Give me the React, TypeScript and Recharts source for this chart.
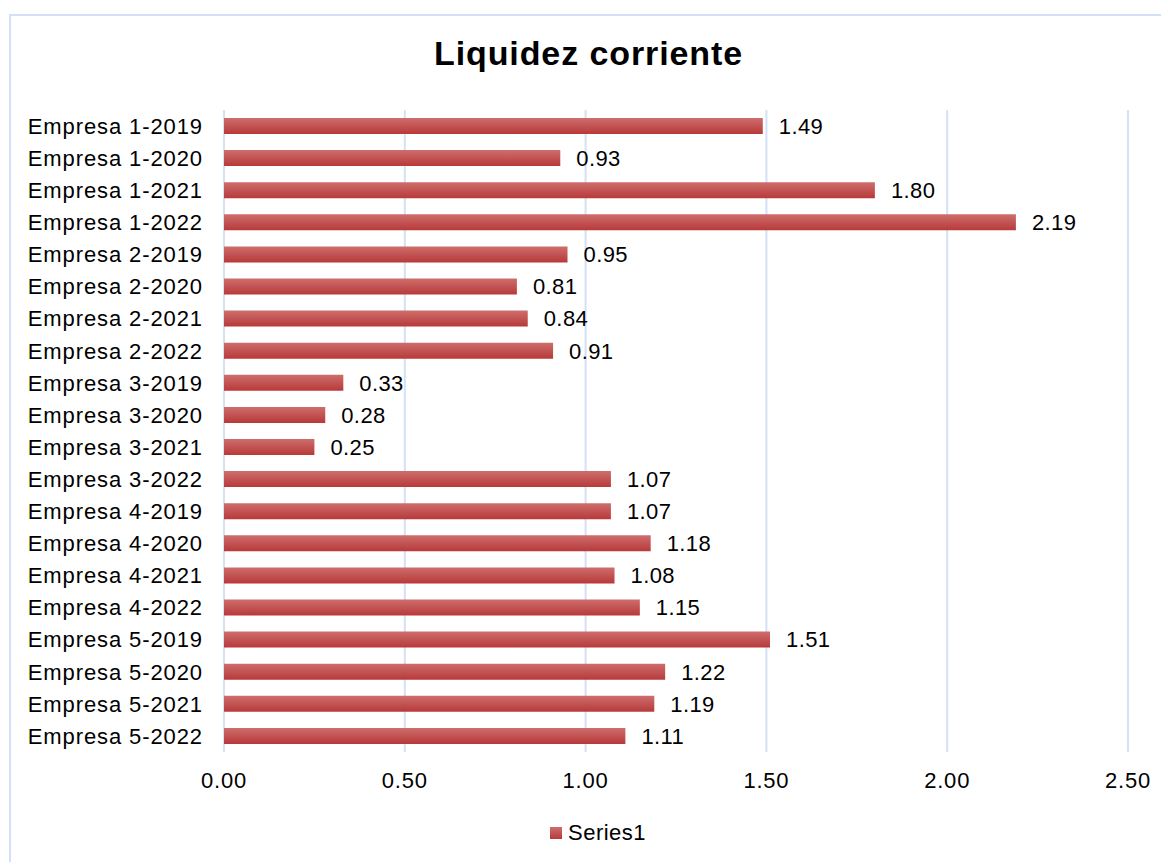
import React from "react";
import {
  Bar,
  BarChart,
  CartesianGrid,
  LabelList,
  XAxis,
  YAxis,
} from "recharts";

const categories = [
  "Empresa 1-2019",
  "Empresa 1-2020",
  "Empresa 1-2021",
  "Empresa 1-2022",
  "Empresa 2-2019",
  "Empresa 2-2020",
  "Empresa 2-2021",
  "Empresa 2-2022",
  "Empresa 3-2019",
  "Empresa 3-2020",
  "Empresa 3-2021",
  "Empresa 3-2022",
  "Empresa 4-2019",
  "Empresa 4-2020",
  "Empresa 4-2021",
  "Empresa 4-2022",
  "Empresa 5-2019",
  "Empresa 5-2020",
  "Empresa 5-2021",
  "Empresa 5-2022",
];

const series1 = [
  1.49, 0.93, 1.8, 2.19, 0.95, 0.81, 0.84, 0.91, 0.33, 0.28, 0.25, 1.07, 1.07,
  1.18, 1.08, 1.15, 1.51, 1.22, 1.19, 1.11,
];

const xTicks = [0, 0.5, 1, 1.5, 2, 2.5];

const data = categories.map((name, i) => ({ name, value: series1[i] }));

const FONT = "'Liberation Sans', Arial, sans-serif";
const GRID = "#d4e1f4";

export default function App() {
  return (
    <div style={{ position: "relative", width: 1161, height: 854, fontFamily: FONT }}>
      {/* chart frame, only top/left edges are visible in the crop */}
      <div
        style={{
          position: "absolute",
          left: 1,
          top: 6,
          width: 1170,
          height: 860,
          borderTop: `2px solid ${GRID}`,
          borderLeft: `2px solid ${GRID}`,
        }}
      />
      <div
        style={{
          position: "absolute",
          left: 0,
          width: 1161,
          top: 25,
          textAlign: "center",
          fontSize: 34,
          fontWeight: 700,
          letterSpacing: 0.9,
          color: "#000",
          lineHeight: "40px",
        }}
      >
        Liquidez corriente
      </div>
      <BarChart
        width={1161}
        height={854}
        layout="vertical"
        data={data}
        margin={{ top: 102, right: 41, left: 0, bottom: 70 }}
        style={{ position: "absolute", left: 0, top: 0 }}
      >
        <defs>
          <linearGradient id="barGrad" x1="0" y1="0" x2="0" y2="1">
            <stop offset="0%" stopColor="#cd6e6c" />
            <stop offset="100%" stopColor="#b8393a" />
          </linearGradient>
        </defs>
        <CartesianGrid horizontal={false} stroke={GRID} strokeWidth={2} />
        <XAxis
          type="number"
          domain={[0, 2.5]}
          ticks={xTicks}
          interval={0}
          tickFormatter={(v: number) => v.toFixed(2)}
          axisLine={false}
          tickLine={false}
          tickSize={0}
          tickMargin={20}
          height={40}
          tick={{ fontSize: 22, fill: "#000", fontFamily: FONT, letterSpacing: 0.8 }}
        />
        <YAxis
          type="category"
          dataKey="name"
          width={216}
          interval={0}
          axisLine={false}
          tickLine={false}
          tickSize={0}
          tickMargin={21}
          tick={{ fontSize: 22, fill: "#000", fontFamily: FONT, letterSpacing: 0.9 }}
        />
        <Bar dataKey="value" fill="url(#barGrad)" barSize={16} isAnimationActive={false}>
          <LabelList
            dataKey="value"
            position="right"
            offset={16}
            formatter={(v: number) => Number(v).toFixed(2)}
            style={{ fontSize: 22, fill: "#000", fontFamily: FONT, letterSpacing: 0.4 }}
          />
        </Bar>
      </BarChart>
      {/* legend */}
      <div
        style={{
          position: "absolute",
          left: 542,
          top: 812,
          display: "flex",
          alignItems: "center",
          fontSize: 22,
          letterSpacing: 0.5,
          color: "#000",
        }}
      >
        <span
          style={{
            display: "inline-block",
            width: 12,
            height: 12,
            marginRight: 6,
            background: "linear-gradient(#cd6e6c, #b8393a)",
          }}
        />
        Series1
      </div>
    </div>
  );
}
